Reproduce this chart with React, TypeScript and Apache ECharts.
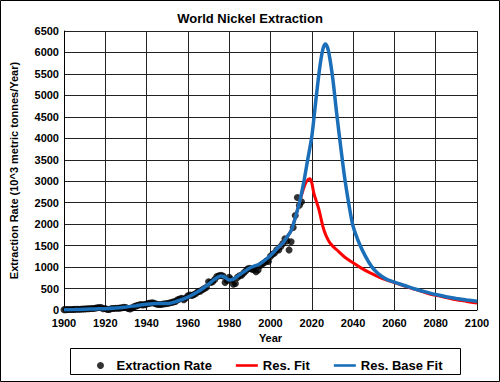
import React, { useEffect, useRef } from "react";
import * as echarts from "echarts";

const obsYears = [
  1900, 1901, 1902, 1903, 1904, 1905, 1906, 1907, 1908, 1909,
  1910, 1911, 1912, 1913, 1914, 1915, 1916, 1917, 1918, 1919,
  1920, 1921, 1922, 1923, 1924, 1925, 1926, 1927, 1928, 1929,
  1930, 1931, 1932, 1933, 1934, 1935, 1936, 1937, 1938, 1939,
  1940, 1941, 1942, 1943, 1944, 1945, 1946, 1947, 1948, 1949,
  1950, 1951, 1952, 1953, 1954, 1955, 1956, 1957, 1958, 1959,
  1960, 1961, 1962, 1963, 1964, 1965, 1966, 1967, 1968, 1969,
  1970, 1971, 1972, 1973, 1974, 1975, 1976, 1977, 1978, 1979,
  1980, 1981, 1982, 1983, 1984, 1985, 1986, 1987, 1988, 1989,
  1990, 1991, 1992, 1993, 1994, 1995, 1996, 1997, 1998, 1999,
  2000, 2001, 2002, 2003, 2004, 2005, 2006, 2007, 2008, 2009,
  2010, 2011, 2012, 2013, 2014, 2015,
];
const obsValues = [
  8, 9, 10, 12, 13, 15, 17, 18, 16, 22,
  25, 29, 31, 36, 34, 40, 51, 60, 56, 28,
  35, 12, 12, 36, 33, 39, 41, 44, 53, 63,
  57, 34, 22, 50, 78, 96, 110, 130, 120, 125,
  140, 155, 165, 170, 150, 135, 130, 130, 140, 145,
  150, 165, 175, 190, 200, 240, 255, 275, 240, 280,
  330, 350, 340, 360, 390, 430, 440, 470, 500, 530,
  660, 640, 660, 710, 780, 800, 810, 790, 640, 690,
  760, 710, 600, 620, 760, 800, 810, 860, 910, 960,
  970, 950, 940, 890, 930, 1030, 1070, 1100, 1140, 1130,
  1250, 1300, 1330, 1400, 1400, 1480, 1550, 1660, 1610, 1400,
  1590, 1920, 2200, 2620, 2440, 2520,
];

const resFitYears = [
  2000, 2003, 2006, 2008, 2010, 2012, 2014, 2016, 2017.5, 2019, 2020, 2021,
  2023.5, 2025.4, 2027, 2029, 2033, 2036, 2040, 2044, 2048, 2052, 2056, 2060,
  2065, 2070, 2076, 2080, 2085, 2090, 2095, 2100,
];
const resFitValues = [
  1270, 1420, 1560, 1700, 1850, 2150, 2500, 2830, 3000, 3060, 2960, 2720,
  2330, 1940, 1720, 1550, 1360, 1230, 1100, 975, 870, 780, 700, 640,
  560, 480, 390, 340, 290, 240, 200, 160,
];

const baseFitYears = [
  1900, 1905, 1910, 1915, 1920, 1925, 1930, 1935, 1940, 1945, 1950, 1955,
  1960, 1965, 1970, 1973, 1976, 1978, 1980, 1982, 1985, 1990, 1995, 2000,
  2003, 2006, 2008, 2010, 2012, 2014, 2016, 2018, 2020, 2022, 2024, 2025.5,
  2026.6, 2028, 2030, 2032, 2034, 2036, 2038, 2040, 2043, 2046, 2049, 2052,
  2056, 2060, 2065, 2070, 2076, 2080, 2085, 2090, 2095, 2100,
];
const baseFitValues = [
  5, 10, 18, 25, 30, 45, 70, 100, 135, 150, 150, 210,
  300, 430, 600, 720, 790, 760, 700, 720, 820, 980, 1080, 1270,
  1420, 1560, 1700, 1850, 2150, 2500, 2950, 3500, 4040, 4900, 5700, 6100,
  6200, 6050, 5450, 4600, 3800, 3050, 2450, 1950, 1550, 1250, 1010, 854,
  720, 650, 570, 490, 410, 360, 310, 270, 235, 205,
];

const xTicks = { min: 1900, max: 2100, interval: 20 };
const yTicks = { min: 0, max: 6500, interval: 500 };

const zip = (xs: number[], ys: number[]) => xs.map((x, i) => [x, ys[i]]);

const lineIcon = "path://M0,0L0,0M0,2.2L22,2.2L22,4.8L0,4.8ZM0,7L0,7";

export default function App() {
  const ref = useRef<HTMLDivElement>(null);
  useEffect(() => {
    if (!ref.current) return;
    const chart = echarts.init(ref.current, undefined, { renderer: "svg" });
    const font = "'Liberation Sans', Arial, sans-serif";
    chart.setOption({
      animation: false,
      backgroundColor: "#fff",
      textStyle: { fontFamily: font },
      title: {
        text: "World Nickel Extraction",
        left: "center",
        top: 7,
        textStyle: { fontSize: 13, fontWeight: "bold", color: "#000", fontFamily: font },
      },
      grid: { left: 58, right: 23, top: 31, bottom: 72 },
      xAxis: {
        type: "value",
        min: xTicks.min,
        max: xTicks.max,
        interval: xTicks.interval,
        name: "Year",
        nameLocation: "middle",
        nameGap: 22,
        nameTextStyle: { fontSize: 11, fontWeight: "bold", color: "#000" },
        axisLine: { lineStyle: { color: "#000", width: 1 } },
        axisTick: { show: false },
        axisLabel: {
          fontSize: 11,
          fontWeight: "bold",
          color: "#000",
          margin: 7,
          formatter: (v: number) => String(v),
        },
        splitLine: { show: true, lineStyle: { color: "#222", width: 1 } },
      },
      yAxis: {
        type: "value",
        min: yTicks.min,
        max: yTicks.max,
        interval: yTicks.interval,
        name: "Extraction Rate (10^3 metric tonnes/Year)",
        nameLocation: "middle",
        nameGap: 45,
        nameTextStyle: { fontSize: 11, fontWeight: "bold", color: "#000" },
        axisLine: { show: true, lineStyle: { color: "#000", width: 1 } },
        axisTick: { show: false },
        axisLabel: {
          fontSize: 11,
          fontWeight: "bold",
          color: "#000",
          margin: 5,
          formatter: (v: number) => String(v),
        },
        splitLine: { show: true, lineStyle: { color: "#222", width: 1 } },
      },
      legend: {
        left: 92,
        top: 354,
        itemWidth: 22,
        itemHeight: 7,
        itemGap: 24,
        textStyle: { fontSize: 13, fontWeight: "bold", color: "#000" },
        data: [
          { name: "Extraction Rate", icon: "circle", itemStyle: { color: "#000" } },
          { name: "Res. Fit", icon: lineIcon },
          { name: "Res. Base Fit", icon: lineIcon },
        ],
      },
      graphic: [
        {
          type: "rect",
          shape: { x: 70.5, y: 348.5, width: 390, height: 26 },
          style: { fill: "none", stroke: "#000", lineWidth: 1 },
          z: 10,
        },
        {
          type: "rect",
          shape: { x: 0.5, y: 0.5, width: 499, height: 381 },
          style: { fill: "none", stroke: "#000", lineWidth: 1 },
          z: 10,
        },
      ],
      series: [
        {
          name: "Extraction Rate",
          type: "scatter",
          data: zip(obsYears, obsValues),
          symbol: "circle",
          symbolSize: 7,
          itemStyle: { color: "#000" },
          z: 2,
        },
        {
          name: "Res. Fit",
          type: "line",
          data: zip(resFitYears, resFitValues),
          symbol: "none",
          smooth: 0.3,
          lineStyle: { color: "#ff0000", width: 3 },
          itemStyle: { color: "#ff0000" },
          z: 3,
        },
        {
          name: "Res. Base Fit",
          type: "line",
          data: zip(baseFitYears, baseFitValues),
          symbol: "none",
          smooth: 0.3,
          lineStyle: { color: "#1a6fb8", width: 3.5 },
          itemStyle: { color: "#1a6fb8" },
          z: 4,
        },
      ],
    });
    return () => chart.dispose();
  }, []);
  return (
    <div
      ref={ref}
      style={{ position: "fixed", left: 0, top: 0, width: 500, height: 382, background: "#fff" }}
    />
  );
}
